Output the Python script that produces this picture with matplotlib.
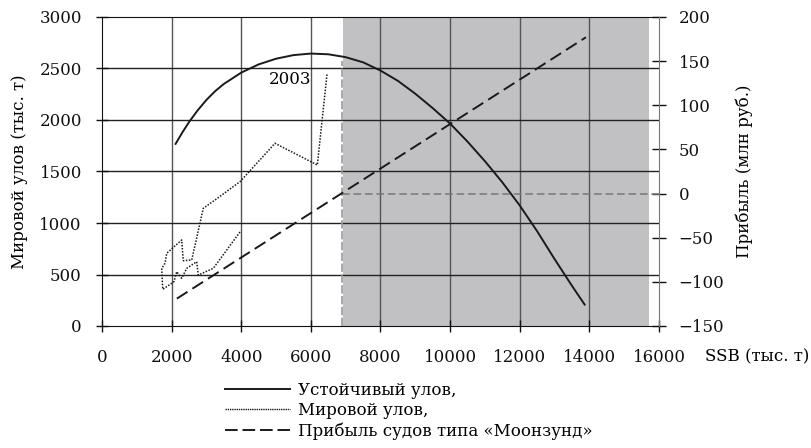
import matplotlib
matplotlib.use("Agg")
import matplotlib.pyplot as plt
from matplotlib.lines import Line2D

plt.rcParams["font.family"] = ["DejaVu Serif"]
plt.rcParams["font.size"] = 12

# --------------------------------------------------------------------------- #
# Data (SSB, thousand tonnes)                                                 #
# --------------------------------------------------------------------------- #

# Sustainable yield curve
ssb_yield = [2100, 2300, 2500, 2750, 3000, 3250, 3500, 4000, 4500, 5000,
             5500, 6000, 6500, 7000, 7500, 8000, 8500, 9000, 9500, 10000,
             10500, 11000, 11500, 12000, 12500, 13000, 13500, 13880]
yield_catch = [1760, 1875, 1980, 2095, 2195, 2280, 2350, 2460, 2540, 2595,
               2630, 2645, 2638, 2610, 2560, 2480, 2380, 2255, 2115, 1965,
               1790, 1600, 1395, 1170, 920, 650, 390, 200]

# Observed world catch, year by year, ending in 2003
ssb_world = [3964, 3197, 2766, 2720, 2433, 2289, 2146, 2068, 1744, 1715, 1810,
             1859, 2289, 2335, 2577, 2910, 3246, 3964, 4970, 6185, 6463]
world_catch = [913, 560, 495, 624, 560, 463, 527, 430, 356, 560, 609,
               706, 835, 634, 641, 1143, 1223, 1401, 1774, 1563, 2442]

# Profit of "Moonzund"-type vessels (mln rub.)
ssb_profit = [2150, 13900]
profit = [-119, 177]

# Break-even boundary and loss zone
breakeven_ssb = 6900
breakeven_top = 2570
loss_zone = (6920, 15700)

x_ticks = list(range(0, 16001, 2000))
left_ticks = list(range(0, 3001, 500))
right_ticks = list(range(-150, 201, 50))

# --------------------------------------------------------------------------- #
# Figure                                                                      #
# --------------------------------------------------------------------------- #
fig = plt.figure(figsize=(8.12, 4.48), dpi=100)
ax = fig.add_axes([102 / 812, 1 - 326 / 448, 557 / 812, 309 / 448])

ax.set_xlim(0, 16000)
ax.set_ylim(0, 3000)
ax.set_xticks(x_ticks)
ax.set_yticks(left_ticks)

ax.axvspan(*loss_zone, color="#c1c1c3", lw=0, zorder=0)
for xv in x_ticks[1:-1]:
    ax.axvline(xv, color="#555555", lw=1.0, zorder=1)
for yv in left_ticks[1:-1]:
    ax.axhline(yv, color="#222222", lw=1.0, zorder=1)

ax.plot([breakeven_ssb, breakeven_ssb], [0, breakeven_top],
        color="#9a9a9a", lw=1.2, ls=(0, (5, 1.5)), zorder=2)

ax.plot(ssb_yield, yield_catch, color="#1a1a1a", lw=1.4, zorder=3,
        solid_capstyle="butt")
ax.plot(ssb_world, world_catch, color="#1a1a1a", lw=1.1, ls=(0, (1, 1)),
        zorder=3)
ax.text(6020, 2390, "2003", ha="right", va="center", fontsize=12)

ax.set_ylabel("Мировой улов (тыс. т)", fontsize=12, labelpad=8)
ax.tick_params(axis="both", direction="inout", length=9, width=1,
               colors="#111111", labelsize=12)
ax.tick_params(axis="x", pad=12)
ax.tick_params(axis="y", pad=10)
for side in ("left", "bottom", "top"):
    ax.spines[side].set_color("#111111")
ax.spines["right"].set_visible(False)

ax2 = ax.twinx()
ax2.set_ylim(-150, 200)
ax2.set_yticks(right_ticks)
ax2.plot(ssb_profit, profit, color="#1a1a1a", lw=1.4, ls=(0, (6.5, 3)),
         zorder=3)
ax2.plot([breakeven_ssb, 16000], [0, 0], color="#777777", lw=1.1,
         ls=(0, (5, 2.5)), zorder=2)
ax2.tick_params(axis="y", direction="inout", length=10, width=1,
                colors="#111111", labelsize=12, pad=9)
ax2.spines["right"].set_color("#777777")
for side in ("left", "bottom", "top"):
    ax2.spines[side].set_visible(False)
ax2.set_ylabel("Прибыль (млн руб.)", fontsize=12, labelpad=8)

fig.text(705 / 812, 1 - 357 / 448, "SSB (тыс. т)", ha="left", va="center",
         fontsize=12)

handles = [
    Line2D([], [], color="#1a1a1a", lw=1.4),
    Line2D([], [], color="#1a1a1a", lw=1.0, ls=(0, (1, 0.6))),
    Line2D([], [], color="#1a1a1a", lw=1.4, ls=(0, (6.5, 2.5))),
]
labels = ["Устойчивый улов,", "Мировой улов,", "Прибыль судов типа «Моонзунд»"]
fig.legend(handles, labels, loc="upper left",
           bbox_to_anchor=(225 / 812, 1 - 382 / 448), frameon=False,
           handlelength=3.9, handletextpad=0.45, labelspacing=0.18,
           borderpad=0, borderaxespad=0, fontsize=12)

fig.savefig("out.png", dpi=100)
